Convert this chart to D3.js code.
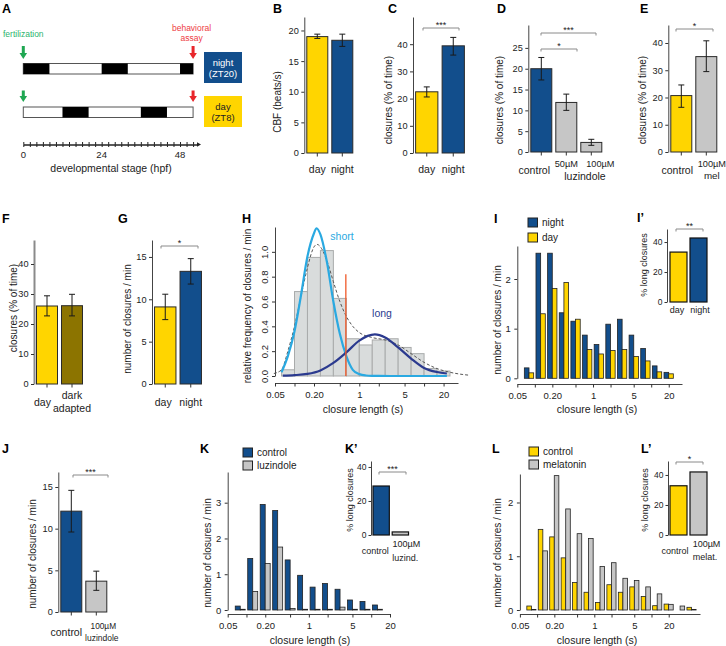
<!DOCTYPE html>
<html><head><meta charset="utf-8">
<script src="https://cdn.jsdelivr.net/npm/d3@7"></script>
<style>body{margin:0;background:#fff}svg{display:block}</style>
</head><body><svg id="c" width="726" height="646"></svg>
<script>
// ================= DATA =================
// Panel A
const hpfLabels = [0, 24, 48];
const hpfMinor = [0,2,4,6,8,10,12,14,16,18,20,22,24,26,28,30,32,34,36,38,40,42,44,46,48,50,52];
const assayHpf = 52;
const nightDark = [[0,8],[24,32],[48,52]];
const dayDark = [[12,20],[36,44]];
const nightBoxText = ["night","(ZT20)"];
const dayBoxText = ["day","(ZT8)"];
// Panel B
const bCats = ["day","night"], bVals = [19.0,18.4], bLo = [18.7,17.4], bHi = [19.4,19.4], bTicks = [0,5,10,15,20];
// Panel C
const cCats = ["day","night"], cVals = [22.5,39.4], cLo = [20.6,36.0], cHi = [24.3,42.5], cTicks = [0,10,20,30,40];
// Panel D
const dCats = ["control","50µM","100µM"], dGroup = "luzindole";
const dVals = [20.0,11.9,2.3], dLo = [17.3,10.0,1.6], dHi = [22.7,13.9,3.05], dTicks = [0,5,10,15,20,25];
// Panel E
const eCats = ["control","100µM"], eGroup = "mel";
const eVals = [20.7,35.0], eLo = [16.4,29.5], eHi = [24.6,40.8], eTicks = [0,10,20,30,40];
// Panel F
const fCats = ["day","dark adapted"], fVals = [26.0,26.1], fLo = [22.7,22.7], fHi = [29.4,29.9], fTicks = [0,10,20,30,40];
// Panel G
const gCats = ["day","night"], gVals = [9.1,13.3], gLo = [7.6,11.8], gHi = [10.6,14.8], gTicks = [0,5,10,15];
// Panel J
const jCats = ["control","100µM luzindole"], jVals = [12.1,3.7], jLo = [9.6,2.6], jHi = [14.6,4.9], jTicks = [0,5,10,15];
// Histogram bins (closure length, s): edges at 0.2-decade steps
const histEdges = [0.0631,0.1,0.1585,0.2512,0.3981,0.631,1,1.585,2.512,3.981,6.31,10,15.85,25.12,39.81,63.1];
const logTicks = [0.05,0.1,0.2,0.5,1,2,5,10,20];
const logTickLabels = ["0.05","","0.20","","1","","5","","20"];
// Panel H
const hFreq = [0.05,0.68,0.955,1.01,0.625,0.30,0.25,0.29,0.30,0.23,0.18,0.06,0.04];
const hTicks = [0,0.2,0.4,0.6,0.8,1.0];
const shortFit = [[0.063,0.03],[0.079,0.16],[0.1,0.36],[0.126,0.65],[0.158,0.96],[0.2,1.15],[0.219,1.19],[0.251,1.14],[0.316,0.92],[0.398,0.6],[0.501,0.34],[0.631,0.16],[0.794,0.05],[1,0.015],[1.26,0.004],[1.58,0.001],[3,0],[10,0],[22.5,0]];
const longFit = [[0.066,0.003],[0.1,0.007],[0.158,0.017],[0.251,0.045],[0.398,0.105],[0.631,0.19],[1,0.285],[1.74,0.335],[2.51,0.31],[3.98,0.23],[6.31,0.14],[10,0.065],[15.8,0.032],[22.5,0.02]];
const mixFit = [[0.048,0.02],[0.063,0.05],[0.079,0.2],[0.1,0.4],[0.126,0.64],[0.158,0.87],[0.2,1.04],[0.224,1.06],[0.251,1.04],[0.316,0.93],[0.398,0.76],[0.501,0.6],[0.631,0.48],[0.794,0.4],[1,0.35],[1.58,0.31],[2.51,0.29],[3.98,0.25],[6.31,0.18],[10,0.11],[15.8,0.06],[25.1,0.03],[39.8,0.012],[51,0.006]];
const threshold = 0.62, thresholdTop = 0.82;
const fitLabels = ["short","long"];
// Panel I / I'
const iSeries = ["night","day"];
const iNight = [0.21,2.52,2.52,1.32,1.15,0.87,0.68,1.09,1.19,0.87,0.60,0.25,0.12];
const iDay   = [0.11,1.30,1.81,1.93,1.19,0.58,0.49,0.56,0.58,0.44,0.35,0.13,0.09];
const iPctCats = ["day","night"], iPct = [33.3,42.7];
const countTicks2 = [0,1,2], countTicks3 = [0,1,2,3], pctTicks = [0,20,40];
// Panel K / K'
const kSeries = ["control","luzindole"];
const kControl = [0.11,1.44,2.95,2.78,1.40,0.97,0.64,0.74,0.58,0.28,0.24,0.14];
const kLuz     = [0.02,0.52,1.30,1.76,0.04,0.02,0.02,0.02,0.08,0.02,0.02,0.02];
const kPctCats = ["control","100µM luzind."], kPct = [28.8,1.8];
// Panel L / L'
const lSeries = ["control","melatonin"];
const lControl = [0.074,1.50,1.36,0.97,0.51,0.33,0.14,0.47,0.33,0.43,0.25,0.08,0.11,0,0.05];
const lMel     = [0.01,1.10,2.50,1.88,1.42,1.33,0.81,0.88,0.59,0.55,0.43,0.30,0.105,0.074,0.01];
const lPctCats = ["control","100µM melat."], lPct = [32.8,42.0];

// ================= DRAWING =================
const FONT = '"Liberation Sans", Arial, Helvetica, sans-serif';
const YEL = "#FFD500", BLU = "#124E8C", GRY = "#C6C6C6", OLV = "#8C7400";
const LBLUE = "#2AA9E1", NAVY = "#2B3A8F", RED = "#EF5A2A";
const svg = d3.select("#c").attr("font-family", FONT);
svg.append("rect").attr("width",726).attr("height",646).attr("fill","#fff");
const intFmt = d3.format("d");

function txt(x,y,s,o={}){
  const t = svg.append("text").attr("x",x).attr("y",y).text(s)
    .attr("font-size",o.size||10).attr("fill",o.fill||"#222")
    .attr("text-anchor",o.anchor||"middle");
  if(o.weight) t.attr("font-weight",o.weight);
  return t;
}
function ytitle(cx,cy,s,size=10){
  svg.append("text").attr("transform",`translate(${cx+size*0.36},${cy}) rotate(-90)`)
    .attr("text-anchor","middle").attr("font-size",size).attr("fill","#222").text(s);
}
function plabel(x,y,s){ txt(x,y,s,{size:12.5,weight:"bold",anchor:"start",fill:"#000"}); }
function styleAxis(g,size,col,w){
  g.attr("font-family",FONT);
  g.selectAll("text").attr("font-size",size).attr("fill","#222");
  g.selectAll(".tick line").attr("stroke","#333");
  g.select(".domain").attr("stroke",col||"#444").attr("stroke-width",w||1);
}
function bracket(x1,x2,yy,stars){
  svg.append("path").attr("d",`M${x1},${yy+2.5}V${yy}H${x2}V${yy+2.5}`)
    .attr("fill","none").attr("stroke","#8a8a8a").attr("stroke-width",1);
  txt((x1+x2)/2, yy-0.3, stars, {size:9});
}

function barPanel(o){
  const y = d3.scaleLinear().domain([0,o.max]).range([o.y0,o.yTop]);
  const x = d3.scaleBand().domain(o.cats).range([o.ax+0.5, o.ax+0.5+o.step*o.cats.length])
    .paddingInner(0.16).paddingOuter(0.08);
  const ag = svg.append("g").attr("transform",`translate(${o.ax},0)`)
    .call(d3.axisLeft(y).tickValues(o.ticks).tickFormat(intFmt).tickSize(3).tickPadding(2.5).tickSizeOuter(0));
  styleAxis(ag,9.2,o.axisColor,o.axisWidth);
  svg.append("g").selectAll("rect").data(o.vals).join("rect")
    .attr("x",(d,i)=>x(o.cats[i])).attr("y",d=>y(d))
    .attr("width",x.bandwidth()).attr("height",d=>y(0)-y(d))
    .attr("fill",(d,i)=>o.colors[i]).attr("stroke","#2a2a2a").attr("stroke-width",1);
  const eg = svg.append("g").attr("stroke","#1a1a1a").attr("stroke-width",1);
  o.cats.forEach((c,i)=>{
    const cx = x(c)+x.bandwidth()/2;
    eg.append("line").attr("x1",cx).attr("x2",cx).attr("y1",y(o.lo[i])).attr("y2",y(o.hi[i]));
    [o.lo[i],o.hi[i]].forEach(v=>eg.append("line").attr("x1",cx-3).attr("x2",cx+3).attr("y1",y(v)).attr("y2",y(v)));
    svg.append("line").attr("x1",cx).attr("x2",cx).attr("y1",o.y0).attr("y2",o.y0+3.5).attr("stroke","#333");
    (o.labels[i]||[]).forEach(([t,yy,s,dx])=>txt(cx+(dx||0),yy,t,{size:s}));
  });
  return {x,y};
}

function pairHist(o){
  const x = d3.scaleLog().domain([0.05,o.xmax]).range(o.xr);
  const y = d3.scaleLinear().domain([0,o.ymax]).range([o.y0,o.yTop]);
  const ag = svg.append("g").attr("transform",`translate(${o.xr[0]},0)`)
    .call(d3.axisLeft(y).tickValues(o.yticks).tickFormat(intFmt).tickSize(3).tickPadding(3.5).tickSizeOuter(0));
  styleAxis(ag,9.5);
  const xg = svg.append("g").attr("transform",`translate(0,${o.xAxisY})`)
    .call(d3.axisBottom(x).tickValues(logTicks).tickFormat((d,i)=>logTickLabels[i])
      .tickSize(3.5).tickPadding(4.5).tickSizeOuter(0));
  styleAxis(xg,9.5);
  const bg = svg.append("g");
  o.series.forEach((vals,j)=>{
    bg.selectAll(null).data(vals).join("rect")
      .attr("x",(d,i)=>{const a=x(histEdges[i]),b=x(histEdges[i+1]);return a+(b-a)*(0.1+0.4*j);})
      .attr("width",(d,i)=>{const a=x(histEdges[i]),b=x(histEdges[i+1]);return (b-a)*0.4;})
      .attr("y",d=>y(d)).attr("height",d=>y(0)-y(d))
      .attr("fill",o.colors[j]).attr("stroke","#222").attr("stroke-width",0.8)
      .attr("display",d=>d>0?null:"none");
  });
  return {x,y};
}

function inset(o){
  const y = d3.scaleLinear().domain([0,o.max]).range([o.y0,o.yTop]);
  const x = d3.scaleBand().domain(o.cats).range([o.start,o.start+o.step*1.85]).paddingInner(0.15).paddingOuter(0);
  const ag = svg.append("g").attr("transform",`translate(${o.ax},0)`)
    .call(d3.axisLeft(y).tickValues(pctTicks).tickFormat(intFmt).tickSize(2.5).tickPadding(2).tickSizeOuter(0));
  styleAxis(ag,8.5);
  svg.append("g").selectAll("rect").data(o.vals).join("rect")
    .attr("x",(d,i)=>x(o.cats[i])).attr("y",d=>y(d)).attr("width",x.bandwidth())
    .attr("height",d=>y(0)-y(d)).attr("fill",(d,i)=>o.colors[i])
    .attr("stroke","#111").attr("stroke-width",1.2);
  o.cats.forEach((c,i)=>{
    const cx = x(c)+x.bandwidth()/2;
    o.labels[i].forEach(([t,yy,dx])=>txt(cx+dx,yy,t,{size:9}));
  });
  return {x,y};
}

function legend(x0,y0,dy,names,colors){
  names.forEach((n,i)=>{
    svg.append("rect").attr("x",x0).attr("y",y0+i*dy).attr("width",9.5).attr("height",9)
      .attr("fill",colors[i]).attr("stroke","#222").attr("stroke-width",1);
    txt(x0+14,y0+i*dy+8.2,n,{size:10,anchor:"start"});
  });
}

// ---------- Panel A ----------
plabel(2,13,"A");
const ax = d3.scaleLinear().domain([0,53.2]).range([23.3,197]);
function lightBar(yTop,dark){
  svg.append("rect").attr("x",ax(0)).attr("y",yTop).attr("width",ax(assayHpf)-ax(0)).attr("height",10.5)
    .attr("fill","#fff").attr("stroke","#555").attr("stroke-width",1);
  svg.append("g").selectAll("rect").data(dark).join("rect")
    .attr("x",d=>ax(d[0])).attr("y",yTop).attr("width",d=>ax(d[1])-ax(d[0])).attr("height",10.5).attr("fill","#000");
}
lightBar(63.5,nightDark); lightBar(107,dayDark);
function arrow(x,yTop,yTip,col){
  svg.append("path").attr("d",`M${x-1.5},${yTop}H${x+1.5}V${yTip-6}H${x+3.8}L${x},${yTip}L${x-3.8},${yTip-6}H${x-1.5}Z`).attr("fill",col);
}
arrow(ax(0),46,59,"#1FA752"); arrow(ax(0),90.5,102,"#1FA752");
arrow(ax(assayHpf),46,59,"#E8262B"); arrow(ax(assayHpf),90.5,102,"#E8262B");
txt(ax(0),36.5,"fertilization",{size:8.5,fill:"#2DB46E"});
txt(ax(assayHpf)-1.5,31,"behavioral",{size:8.5,fill:"#EE3B3F"});
txt(ax(assayHpf)-1.5,40.5,"assay",{size:8.5,fill:"#EE3B3F"});
svg.append("rect").attr("x",204).attr("y",52).attr("width",38).attr("height",31).attr("fill",BLU);
txt(223,66,nightBoxText[0],{size:9.5,fill:"#fff"}); txt(223,77,nightBoxText[1],{size:9.5,fill:"#fff"});
svg.append("rect").attr("x",204).attr("y",96).attr("width",38).attr("height",31).attr("fill",YEL);
txt(223,109.5,dayBoxText[0],{size:9.5,fill:"#222"}); txt(223,121,dayBoxText[1],{size:9.5,fill:"#222"});
const aAx1 = svg.append("g").attr("transform","translate(0,144.5)")
  .call(d3.axisBottom(ax).tickValues(hpfMinor).tickSize(2.5).tickFormat("").tickSizeOuter(0));
const aAx2 = svg.append("g").attr("transform","translate(0,144.5)")
  .call(d3.axisTop(ax).tickValues(hpfMinor).tickSize(2.5).tickFormat("").tickSizeOuter(0));
[aAx1,aAx2].forEach(g=>{g.selectAll("line").attr("stroke","#222");g.select(".domain").attr("stroke","#222");});
svg.append("path").attr("d",`M197,142.2L201,144.5L197,146.8Z`).attr("fill","#222");
hpfLabels.forEach(v=>txt(ax(v),157.5,String(v),{size:9.5}));
txt(111,171.5,"developmental stage (hpf)",{size:10.5});

// ---------- Panel B ----------
plabel(273,13,"B");
barPanel({ax:304.3,y0:153,yTop:17,max:22.2,ticks:bTicks,step:25,cats:bCats,vals:bVals,lo:bLo,hi:bHi,
  colors:[YEL,BLU],labels:[[[bCats[0],173,10.5]],[[bCats[1],173,10.5]]]});
ytitle(277,102,"CBF (beats/s)");

// ---------- Panel C ----------
plabel(388,13,"C");
barPanel({ax:413,y0:153,yTop:17,max:50,ticks:cTicks,step:26.5,cats:cCats,vals:cVals,lo:cLo,hi:cHi,
  colors:[YEL,BLU],labels:[[[cCats[0],173,10.5]],[[cCats[1],173,10.5]]]});
ytitle(388,100,"closures (% of time)");
bracket(423,459,28,"***");

// ---------- Panel D ----------
plabel(497,13,"D");
barPanel({ax:528.3,y0:152,yTop:25,max:30.5,ticks:dTicks,step:25,cats:dCats,vals:dVals,lo:dLo,hi:dHi,
  colors:[BLU,GRY,GRY],labels:[[[dCats[0],174,10.5,-7]],[[dCats[1],167,9.2,0]],[[dCats[2],167,9.2,9]]]});
txt(585,179.5,dGroup,{size:10.5});
ytitle(499,100,"closures (% of time)");
bracket(541,577,49,"*");
bracket(541,596,33,"***");

// ---------- Panel E ----------
plabel(640,13,"E");
barPanel({ax:668.3,y0:152,yTop:25,max:46.6,ticks:eTicks,step:25,cats:eCats,vals:eVals,lo:eLo,hi:eHi,
  colors:[YEL,GRY],labels:[[[eCats[0],174,10.5,-4]],[[eCats[1],167,9.2,5.5],[eGroup,179,9.8,5.5]]]});
ytitle(642,100,"closures (% of time)");
bracket(676,713,29,"*");

// ---------- Panel F ----------
plabel(2,223,"F");
barPanel({ax:34,y0:384,yTop:240,max:48,ticks:fTicks,step:25,cats:fCats,vals:fVals,lo:fLo,hi:fHi,
  colors:[YEL,OLV],axisColor:"#8a8a8a",axisWidth:2,
  labels:[[[fCats[0],406,10.5,-4.5]],[[fCats[1].split(" ")[0],399,10.5],[fCats[1].split(" ")[1],411.5,10.5]]]});
ytitle(13,308,"closures (% of time)");

// ---------- Panel G ----------
plabel(118,223,"G");
barPanel({ax:152,y0:384,yTop:240,max:17,ticks:gTicks,step:25.5,cats:gCats,vals:gVals,lo:gLo,hi:gHi,
  colors:[YEL,BLU],labels:[[[gCats[0],406,10.5,-2]],[[gCats[1],406,10.5]]]});
ytitle(127,319,"number of closures / min");
bracket(161,198,246,"*");

// ---------- Panel H ----------
plabel(242,223,"H");
{
  const x = d3.scaleLog().domain([0.05,33.4]).range([275,458]);
  const y = d3.scaleLinear().domain([0,1.2]).range([376,227]);
  svg.append("g").selectAll("rect").data(hFreq).join("rect")
    .attr("x",(d,i)=>x(histEdges[i])).attr("width",(d,i)=>x(histEdges[i+1])-x(histEdges[i]))
    .attr("y",d=>y(d)).attr("height",d=>y(0)-y(d))
    .attr("fill","#D9DCDC").attr("stroke","#A9ABAB").attr("stroke-width",1);
  const yg = svg.append("g").attr("transform","translate(275,0)")
    .call(d3.axisLeft(y).tickValues(hTicks).tickFormat(d3.format(".1f")).tickSize(3).tickSizeOuter(0));
  styleAxis(yg,9.5);
  yg.selectAll("text").attr("x",0).attr("dy",0).attr("text-anchor","middle")
    .attr("transform","translate(-7,0) rotate(-90)");
  const xg = svg.append("g").attr("transform","translate(0,383)")
    .call(d3.axisBottom(x).tickValues(logTicks).tickFormat((d,i)=>logTickLabels[i]).tickSize(3.5).tickPadding(4.5).tickSizeOuter(0));
  styleAxis(xg,9.5);
  const line = d3.line().x(d=>x(d[0])).y(d=>y(d[1])).curve(d3.curveMonotoneX);
  svg.append("path").attr("d",line(mixFit)).attr("fill","none").attr("stroke","#555").attr("stroke-width",1).attr("stroke-dasharray","3,2");
  svg.append("path").attr("d",line(shortFit)).attr("fill","none").attr("stroke",LBLUE).attr("stroke-width",2.2);
  svg.append("path").attr("d",line(longFit)).attr("fill","none").attr("stroke",NAVY).attr("stroke-width",2.2);
  svg.append("line").attr("x1",x(threshold)).attr("x2",x(threshold)).attr("y1",y(0)).attr("y2",y(thresholdTop))
    .attr("stroke",RED).attr("stroke-width",1.3);
  txt(342,240,fitLabels[0],{size:10.5,fill:LBLUE});
  txt(382,316.5,fitLabels[1],{size:10.5,fill:NAVY});
  ytitle(247,306,"relative frequency of closures / min");
  txt(363,412.5,"closure length (s)",{size:10.5});
}

// ---------- Panel I ----------
plabel(494,223,"I");
pairHist({xr:[517.3,682],xmax:33.8,y0:378.3,yTop:246,ymax:2.665,yticks:countTicks2,xAxisY:384,
  series:[iNight,iDay],colors:[BLU,YEL]});
legend(528,218,15,iSeries,[BLU,YEL]);
ytitle(497,320,"number of closures / min");
txt(597,413,"closure length (s)",{size:10.5});
plabel(637,222,"I\u2019");
inset({ax:667,y0:302,yTop:229,max:48.7,start:670,step:20,cats:iPctCats,vals:iPct,colors:[YEL,BLU],
  labels:[[[iPctCats[0],313,-1.5]],[[iPctCats[1],313,1.5]]]});
ytitle(643.5,265,"% long closures",9);
bracket(676,703,229,"**");

// ---------- Panel J ----------
plabel(2,453,"J");
barPanel({ax:58.3,y0:612,yTop:472,max:16.8,ticks:jTicks,step:25,cats:jCats,vals:jVals,lo:jLo,hi:jHi,
  colors:[BLU,GRY],labels:[[[jCats[0],636,10.5,-5]],[[jCats[1].split(" ")[0],629,8.3,7],[jCats[1].split(" ")[1],640.5,8.5,5.5]]]});
ytitle(32,554,"number of closures / min");
bracket(73,108,475,"***");

// ---------- Panel K ----------
plabel(200,453,"K");
pairHist({xr:[227.7,390],xmax:20,y0:610,yTop:472,ymax:3.858,yticks:countTicks3,xAxisY:614,
  series:[kControl,kLuz],colors:[BLU,GRY]});
legend(243,448,13,kSeries,[BLU,GRY]);
ytitle(207,553,"number of closures / min");
txt(310,643.5,"closure length (s)",{size:10.5});
plabel(345,453,"K\u2019");
inset({ax:371,y0:535,yTop:461,max:43.5,start:373,step:19.2,cats:kPctCats,vals:kPct,colors:[BLU,GRY],
  labels:[[[kPctCats[0],554,-6]],[[kPctCats[1].split(" ")[0],547,6],[kPctCats[1].split(" ")[1],561,5]]]});
ytitle(350,500,"% long closures",9);
bracket(379,406,472,"***");

// ---------- Panel L ----------
plabel(492,453,"L");
pairHist({xr:[519.9,700],xmax:70.5,y0:610,yTop:474,ymax:2.53,yticks:countTicks2,xAxisY:614,
  series:[lControl,lMel],colors:[YEL,GRY]});
legend(529,447,13,lSeries,[YEL,GRY]);
ytitle(497,553,"number of closures / min");
txt(597,643.5,"closure length (s)",{size:10.5});
plabel(641,453,"L\u2019");
inset({ax:668,y0:535,yTop:461,max:49.3,start:670,step:20,cats:lPctCats,vals:lPct,colors:[YEL,GRY],
  labels:[[[lPctCats[0],554,-3.5]],[[lPctCats[1].split(" ")[0],547,8],[lPctCats[1].split(" ")[1],560,6.5]]]});
ytitle(645,500,"% long closures",9);
bracket(676,703,462,"*");
</script></body></html>
